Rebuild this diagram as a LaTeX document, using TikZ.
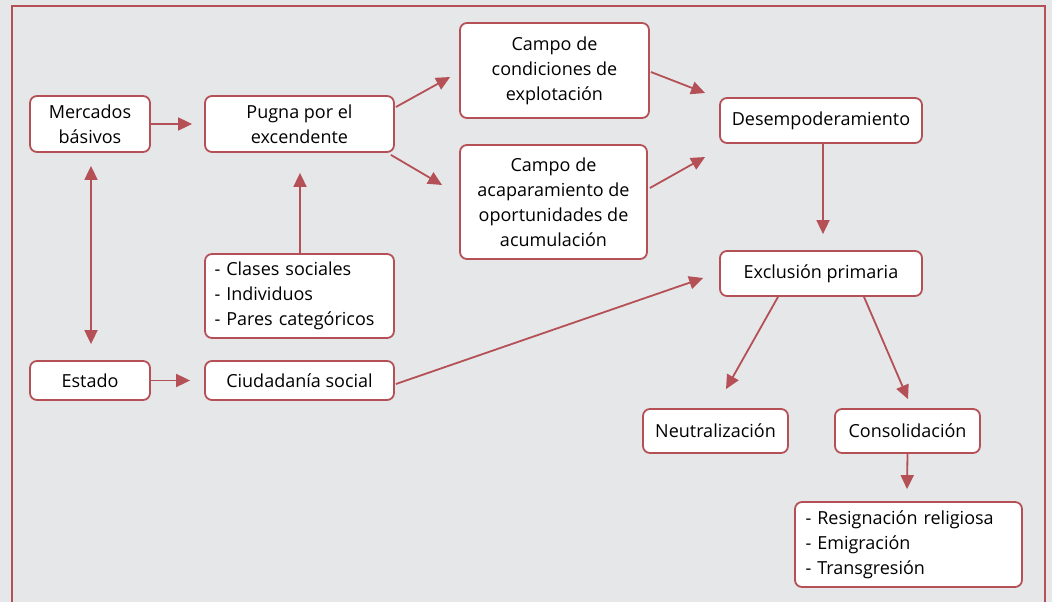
\documentclass[tikz,border=0pt]{standalone}
\usepackage{fontspec}
\setmainfont{Open Sans}
\usetikzlibrary{arrows.meta,calc}
\definecolor{frame}{RGB}{180,80,86}
\definecolor{bg}{RGB}{230,231,233}
\begin{document}
\begin{tikzpicture}[x=1pt,y=-1pt,
  box/.style={draw=frame,line width=1.8pt,fill=white,rounded corners=7pt,
    inner sep=0pt,align=center,font=\fontsize{18}{25}\selectfont},
  lbox/.style={box,align=left},
  conn/.style={draw=frame,line width=1.8pt,-{Triangle[length=14pt,width=13pt]}},
  dconn/.style={conn,{Triangle[length=14pt,width=13pt]}-{Triangle[length=14pt,width=13pt]}}]
\clip (0,0) rectangle (1052,602);
\fill[bg] (0,0) rectangle (1052,602);
\draw[frame,line width=1.8pt] (12,6) rectangle (1045,640);

\node[box,minimum width=120pt,minimum height=56pt] (merc) at (90,124) {Mercados\\básivos};
\node[box,minimum width=189pt,minimum height=56pt] (pugna) at (299.5,124) {Pugna por el\\excendente};
\node[box,minimum width=189pt,minimum height=95pt] (campo1) at (554.5,70.5) {Campo de\\condiciones de\\explotación};
\node[box,minimum width=187pt,minimum height=114pt] (campo2) at (553.5,202) {Campo de\\acaparamiento de\\oportunidades de\\acumulación};
\node[box,minimum width=202pt,minimum height=45pt] (desemp) at (821,120.5) {Desempoderamiento};
\node[box,minimum width=202pt,minimum height=45pt] (excl) at (821,273.5) {Exclusión primaria};
\node[lbox,minimum width=189pt,minimum height=84pt,text width=170pt] (clases) at (299.5,296) {- Clases sociales\\- Individuos\\- Pares categóricos};
\node[box,minimum width=120pt,minimum height=39pt] (estado) at (90,380.5) {Estado};
\node[box,minimum width=189pt,minimum height=39pt] (ciud) at (299.5,380.5) {Ciudadanía social};
\node[box,minimum width=145pt,minimum height=44pt] (neutr) at (715.5,431) {Neutralización};
\node[box,minimum width=145pt,minimum height=44pt] (consol) at (907.5,431) {Consolidación};
\node[lbox,minimum width=227pt,minimum height=85pt,text width=206pt] (resig) at (908.5,544.5) {- Resignación religiosa\\- Emigración\\- Transgresión};

\draw[conn] (merc.east) -- ($(pugna.west)+(-12,0)$);
\draw[conn] ($(pugna.east)+(1,-17)$) -- ($(campo1.west)+(-9,6.5)$);
\draw[conn] ($(pugna.south east)+(-4,2)$) -- ($(campo2.west)+(-17,-17)$);
\draw[conn] ($(campo1.east)+(1,1.5)$) -- ($(desemp.west)+(-14,-27.5)$);
\draw[conn] ($(campo2.east)+(2,-14)$) -- ($(desemp.west)+(-14,36.5)$);
\draw[conn] ($(desemp.south)+(2,0)$) -- ($(excl.north)+(2,-16)$);
\draw[conn] ($(ciud.east)+(1,3.5)$) -- ($(excl.west)+(-16,4.5)$);
\draw[conn] ($(excl.south)+(-43,0)$) -- ($(neutr.north)+(10.5,-19)$);
\draw[conn] ($(excl.south)+(43,0)$) -- ($(consol.north)+(0.5,-9)$);
\draw[conn] (consol.south) -- ($(resig.north)+(-1.5,-12)$);
\draw[dconn] ($(merc.south)+(1,13)$) -- ($(estado.north)+(1,-16)$);
\draw[conn] ($(clases.north)+(0.5,0)$) -- ($(pugna.south)+(0.5,20)$);
\draw[conn] (estado.east) -- ($(ciud.west)+(-14,0)$);
\end{tikzpicture}
\end{document}
